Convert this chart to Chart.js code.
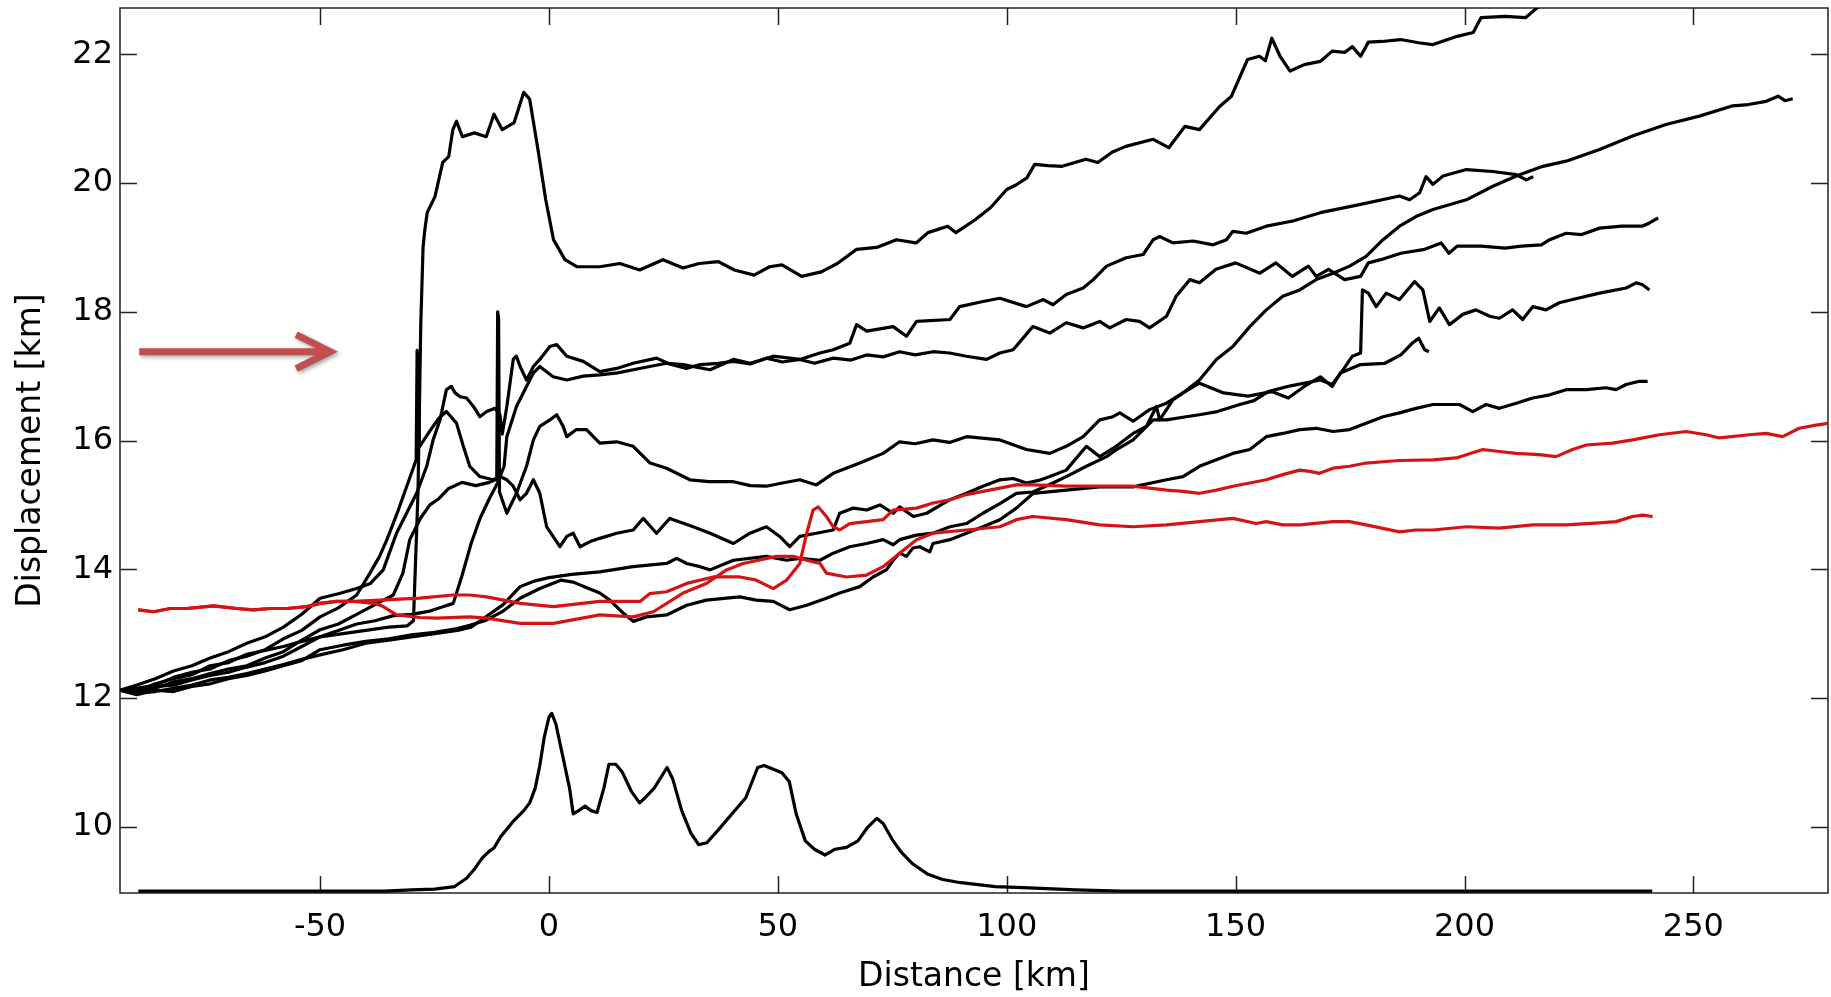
<!DOCTYPE html>
<html>
<head>
<meta charset="utf-8">
<script src="https://cdn.jsdelivr.net/npm/chart.js@4.4.0/dist/chart.umd.min.js"></script>
<style>
  html, body { margin: 0; padding: 0; background: #fff; }
  canvas { display: block; }
</style>
</head>
<body>
<canvas id="profileChart" width="1831" height="997"></canvas>
<script>
// axis ticks
const xTickValues = [-50, 0, 50, 100, 150, 200, 250];
const yTickValues = [10, 12, 14, 16, 18, 20, 22];

// profiles, [distance km, displacement km]
const curveA = [
  [-93.7,12.12],[-90,12.1],[-86,12.22],[-82,12.3],[-78,12.36],[-74,12.5],[-70,12.55],[-66,12.68],[-62,12.74],
  [-58,12.8],[-54,12.88],[-50,12.95],[-45,13.0],[-40,13.05],[-35,13.1],[-31,13.12],[-29.6,13.2],[-28.6,15.2],
  [-28.0,17.8],[-27.5,19.0],[-27.1,19.28],[-26.6,19.54],[-24.9,19.79],[-23.2,20.32],[-21.9,20.41],[-21,20.83],
  [-20.2,20.96],[-18.9,20.72],[-16.3,20.78],[-13.7,20.72],[-12,21.07],[-10.2,20.83],[-7.6,20.94],[-5.5,21.41],
  [-4.2,21.3],[-2.4,20.52],[-0.7,19.74],[1,19.12],[3.5,18.81],[6.1,18.7],[11.1,18.7],[15.5,18.75],[19.8,18.65],
  [24.9,18.81],[29.3,18.68],[32.8,18.75],[37,18.78],[40.5,18.65],[44.8,18.57],[48.2,18.7],[50.9,18.73],
  [55.2,18.55],[59.5,18.62],[63,18.75],[67.2,18.97],[71.6,19.0],[75.9,19.12],[80.2,19.07],[82.8,19.23],
  [87.1,19.33],[88.9,19.23],[93.1,19.43],[96.5,19.62],[100,19.9],[102,19.97],[104.4,20.08],[106.1,20.29],
  [109,20.27],[112.1,20.26],[117.3,20.37],[119.9,20.32],[123,20.48],[126,20.57],[132,20.68],[135.4,20.55],
  [138.9,20.88],[142.1,20.83],[146.5,21.19],[149.1,21.35],[152.6,21.92],[155.2,21.97],[156.5,21.9],
  [157.9,22.25],[159.7,21.97],[161.9,21.74],[165,21.84],[168.5,21.89],[171.1,22.05],[173.8,22.03],
  [175.5,22.12],[177.3,21.97],[179,22.19],[182,22.2],[186,22.23],[190,22.18],[193,22.15],[198.4,22.28],
  [201.9,22.34],[203.6,22.57],[208.9,22.59],[213.3,22.57],[216,22.73],[218,22.85]
];

const curveB1 = [
  [-93.7,12.12],[-90,12.2],[-86,12.3],[-82,12.42],[-78,12.5],[-74,12.62],[-70,12.72],[-66,12.85],[-62,12.95],
  [-58,13.1],[-54,13.3],[-50,13.55],[-46,13.62],[-42,13.7],[-39,13.78],[-36.2,13.99],[-33.3,14.56],[-31.1,14.87],
  [-28.9,15.18],[-26.7,15.6],[-25.3,16.01],[-23.8,16.32],[-22.4,16.79],[-21.3,16.84],[-20.5,16.74],[-19.4,16.68],
  [-18,16.66],[-16.5,16.53],[-15.1,16.37],[-13.6,16.45],[-11.8,16.5],[-10.7,16.4],[-10.2,16.1],[-9.2,16.53],
  [-7.8,17.26],[-7.1,17.31],[-6.3,17.15],[-4.9,16.94],[-3.4,17.15],[-2,17.26],[0.2,17.46],[1.7,17.49],
  [3.9,17.31],[7.5,17.23],[11.1,17.07],[14.8,17.12],[18.4,17.2],[23.5,17.28],[26,17.2],[29.3,17.18],
  [35.2,17.1],[40.3,17.26],[44,17.2],[49,17.31],[54.8,17.26],[59.2,17.36],[62.1,17.41],[65.7,17.51],
  [67.2,17.8],[69.4,17.7],[75.2,17.77],[78.1,17.62],[80.3,17.85],[87.6,17.88],[89.7,18.08],[94.8,18.16],
  [98.5,18.21],[104.3,18.08],[108,18.19],[110.1,18.11],[113,18.27],[116.7,18.37],[118.9,18.5],[121.8,18.71],
  [126.1,18.84],[129.8,18.89],[132,19.12],[133.4,19.17],[136.3,19.07],[140.7,19.1],[145.1,19.04],[148,19.12],
  [149.4,19.25],[152.3,19.22],[156.7,19.33],[162.5,19.41],[168.5,19.54],[177.3,19.67],[185.8,19.8],[188,19.74],
  [190.2,19.85],[191.6,20.1],[193.1,19.98],[195.3,20.11],[200.4,20.21],[206.2,20.18],[211.3,20.13],
  [213.5,20.05],[215,20.1]
];

const curveC = [
  [-93.7,12.12],[-90,12.15],[-86,12.2],[-82,12.32],[-78,12.4],[-74,12.45],[-70,12.58],[-66,12.65],[-62,12.75],
  [-58,12.92],[-54,13.05],[-50,13.26],[-46,13.4],[-42,13.6],[-39.1,13.94],[-37,14.2],[-35.4,14.46],[-33,14.9],
  [-31,15.3],[-29.5,15.6],[-29,15.7],[-28.8,17.4],[-28.5,17.3],[-28.3,15.9],[-26,16.15],[-24,16.35],
  [-22.4,16.45],[-20.2,16.27],[-18.7,15.91],[-17.3,15.6],[-15.1,15.44],[-12.2,15.39],[-10.7,15.44],[-9.8,15.6],
  [-9.2,16.06],[-7.1,16.53],[-4.9,16.84],[-3.4,17.05],[-2,17.15],[0.9,16.99],[3.9,16.94],[7.5,17.0],
  [11.1,17.02],[15,17.05],[18.4,17.1],[22,17.15],[25.7,17.2],[30,17.12],[33,17.18],[37,17.2],[40.3,17.23],
  [44,17.19],[47.5,17.28],[51,17.22],[54.8,17.26],[58,17.2],[62.1,17.28],[66,17.25],[69.4,17.33],[73,17.3],
  [76.6,17.38],[80,17.33],[83.9,17.38],[87.5,17.36],[91.2,17.31],[95.6,17.26],[98.5,17.36],[101.4,17.41],
  [105.7,17.77],[109.4,17.67],[113,17.83],[116.7,17.75],[120.3,17.85],[122.5,17.75],[126.1,17.88],[129,17.85],
  [131.2,17.75],[134.9,17.93],[137,18.24],[140,18.5],[142.1,18.45],[145.7,18.66],[150,18.76],[155.3,18.6],
  [158.8,18.76],[162.4,18.55],[165.9,18.71],[167.6,18.55],[170.3,18.66],[173.8,18.5],[177.3,18.55],[179,18.76],
  [181.7,18.81],[186.1,18.91],[191.3,18.97],[194.9,19.07],[196.6,18.91],[198.4,19.02],[203.6,19.02],
  [208.9,18.99],[212.4,19.02],[216.8,19.04],[218.6,19.12],[222.2,19.22],[225.6,19.2],[229.5,19.3],
  [234.4,19.33],[238.8,19.33],[240.4,19.38],[242.3,19.46]
];

const curveB = [
  [-93.7,12.12],[-90,12.1],[-86,12.15],[-82,12.25],[-78,12.3],[-74,12.38],[-70,12.45],[-66,12.5],[-62,12.62],
  [-58,12.72],[-54,12.9],[-50,13.06],[-46,13.15],[-42,13.3],[-38,13.45],[-34,13.6],[-31.9,13.94],[-30.4,14.46],
  [-28,14.8],[-26,15.0],[-24,15.1],[-22,15.25],[-19,15.35],[-16,15.3],[-13,15.35],[-11.4,15.4],[-11.2,18.0],
  [-11.0,17.9],[-10.8,15.2],[-9.2,14.87],[-7.1,15.18],[-4.9,15.6],[-3.4,16.01],[-2,16.22],[0.2,16.32],
  [1.7,16.4],[3.1,16.22],[3.9,16.06],[6,16.17],[8.2,16.17],[11.1,15.96],[14.8,15.98],[18.4,15.91],[22.1,15.65],
  [25.7,15.57],[30.8,15.39],[35,15.36],[40.3,15.36],[44,15.3],[47.5,15.29],[51,15.34],[54.8,15.39],[58.4,15.31],
  [62.1,15.49],[67.9,15.65],[73,15.8],[76.6,15.98],[80,15.95],[83.9,16.01],[87.5,15.97],[91.2,16.06],
  [98.5,16.01],[104.3,15.86],[109.4,15.8],[113,15.91],[116.7,16.06],[120.3,16.32],[123.2,16.37],[124.7,16.43],
  [127.6,16.3],[131.2,16.48],[134.9,16.58],[138.5,16.74],[142.1,16.94],[145.8,17.26],[149.4,17.46],
  [153.1,17.77],[156.7,18.03],[160.3,18.24],[164,18.34],[167.6,18.5],[171.3,18.6],[174.9,18.71],[178.5,18.86],
  [182.2,19.12],[185.8,19.33],[189.4,19.48],[193.1,19.59],[200.4,19.74],[206.2,19.95],[211.3,20.11],
  [217.1,20.26],[222.2,20.34],[229.5,20.52],[236.7,20.73],[244,20.91],[251.3,21.04],[258.6,21.2],[262,21.22],
  [265.9,21.27],[268.5,21.35],[270,21.28],[271.7,21.31]
];

const curveF = [
  [-93.7,12.12],[-90,12.12],[-86,12.18],[-82,12.2],[-78,12.28],[-74,12.35],[-70,12.4],[-66,12.48],[-62,12.55],
  [-58,12.65],[-54,12.8],[-50,12.95],[-46,13.05],[-42,13.15],[-38,13.2],[-34,13.28],[-30,13.3],[-26,13.35],
  [-23,13.42],[-20.9,13.47],[-19,13.9],[-17,14.4],[-15,14.8],[-13,15.1],[-11.5,15.3],[-10.7,15.44],[-9.2,15.39],
  [-7.8,15.29],[-6.3,15.08],[-4.9,15.18],[-3.4,15.39],[-2,15.18],[-0.5,14.66],[0.9,14.51],[2.4,14.35],
  [3.9,14.51],[5.3,14.56],[6.8,14.35],[9,14.43],[11.1,14.48],[14.8,14.56],[18.4,14.61],[20.6,14.79],
  [23.5,14.56],[26.4,14.79],[31.5,14.66],[35.2,14.56],[40.3,14.4],[43.9,14.56],[47.5,14.66],[50.4,14.51],
  [52.6,14.35],[54.8,14.51],[58.4,14.56],[62.1,14.61],[63.5,14.87],[66.5,14.95],[69.4,14.92],[72.3,15.0],
  [75.2,14.87],[76.6,14.97],[79.6,14.82],[82.5,14.87],[87.6,15.08],[91.2,15.18],[94.8,15.29],[98.5,15.39],
  [101.4,15.41],[104.3,15.34],[107,15.38],[109.4,15.44],[113,15.54],[117.4,15.91],[120.3,15.75],[123.9,15.91],
  [127.6,16.11],[130.5,16.22],[132.7,16.53],[133.4,16.32],[134.9,16.48],[136.3,16.63],[138.5,16.74],
  [142.1,16.89],[147.4,16.74],[152.7,16.69],[157.9,16.76],[161.5,16.66],[165,16.84],[168.5,16.99],
  [171.1,16.84],[172.9,17.05],[177.3,17.18],[182.6,17.2],[186.1,17.33],[188.7,17.52],[190,17.59],
  [191.3,17.41],[192.2,17.38]
];

const curveD = [
  [-93.7,12.12],[-90,12.08],[-86,12.1],[-82,12.15],[-78,12.2],[-74,12.28],[-70,12.32],[-66,12.38],[-62,12.45],
  [-58,12.52],[-54,12.6],[-50,12.67],[-45,12.75],[-40,12.85],[-35,12.9],[-30,12.95],[-25,13.0],[-20,13.05],
  [-17,13.1],[-14,13.25],[-10,13.45],[-6.3,13.73],[-3,13.82],[0,13.87],[5,13.92],[11.1,13.96],[18.4,14.04],
  [25.7,14.09],[27.9,14.17],[30.1,14.09],[33,14.04],[35.2,13.99],[40.3,14.14],[47.5,14.2],[51.9,14.14],
  [54.8,14.17],[59.2,14.14],[62.1,14.25],[65.7,14.35],[69.4,14.4],[73,14.46],[75.2,14.38],[76.6,14.46],
  [80.3,14.53],[83.9,14.56],[87.6,14.66],[91.2,14.71],[94.8,14.87],[98.5,15.02],[102.1,15.18],[105.7,15.2],
  [110.1,15.34],[113,15.44],[117.4,15.6],[121.8,15.75],[124,15.86],[127.6,16.01],[132,16.32],[134.9,16.32],
  [139.2,16.37],[142.1,16.4],[146,16.45],[150.9,16.56],[154,16.62],[157.1,16.76],[162,16.85],[168.5,16.94],
  [171.1,16.87],[173.5,17.1],[175.5,17.31],[177.3,17.36],[177.7,18.34],[179,18.29],[180.7,18.08],
  [182.9,18.29],[185.8,18.19],[189.1,18.47],[190.9,18.34],[192.4,17.85],[194.5,18.06],[196.7,17.8],
  [199.6,17.96],[202.5,18.03],[205.5,17.93],[207.6,17.9],[210.5,18.03],[212.7,17.88],[214.9,18.08],
  [217.8,18.03],[220.7,18.14],[223.6,18.19],[229.5,18.29],[235.3,18.37],[237.5,18.45],[238.9,18.42],
  [240.4,18.34]
];

const curveE = [
  [-93.7,12.12],[-90,12.05],[-86,12.12],[-82,12.1],[-78,12.18],[-74,12.22],[-70,12.3],[-66,12.35],[-62,12.42],
  [-58,12.5],[-54,12.58],[-50,12.75],[-45,12.82],[-40,12.88],[-35,12.92],[-30,12.98],[-25,13.02],[-20,13.08],
  [-17.3,13.13],[-14,13.2],[-10,13.35],[-6.3,13.55],[-2,13.7],[2.6,13.83],[5.3,13.8],[8,13.72],[11.1,13.63],
  [13.3,13.52],[16.2,13.32],[18.4,13.19],[21.3,13.26],[25.7,13.29],[30.1,13.44],[34.4,13.52],[38.8,13.55],
  [41.7,13.57],[45.3,13.52],[49,13.5],[52.6,13.37],[56.3,13.44],[60.6,13.55],[63.5,13.63],[67.9,13.73],
  [70.8,13.88],[73.7,13.99],[75.2,14.14],[76.6,14.25],[78.1,14.2],[79.5,14.33],[81,14.35],[83.2,14.27],
  [83.9,14.4],[87.6,14.46],[91.2,14.56],[94.8,14.66],[98.5,14.77],[102.1,14.95],[105.8,15.18],[113,15.23],
  [120.3,15.28],[127.6,15.28],[134.9,15.39],[138.5,15.44],[142.1,15.6],[145.8,15.7],[149.4,15.8],[153.1,15.86],
  [156.7,16.06],[160.3,16.11],[164,16.17],[167.6,16.19],[171.3,16.14],[174.9,16.17],[178.5,16.27],
  [182.2,16.37],[185.8,16.43],[189.4,16.5],[193.1,16.56],[198.9,16.56],[201.8,16.45],[204.7,16.56],
  [207.6,16.5],[211.3,16.58],[214.9,16.66],[218.6,16.71],[222.2,16.79],[226.6,16.79],[230.9,16.82],
  [233.1,16.79],[235.3,16.87],[238.2,16.92],[240,16.92]
];

const redUpper = [
  [-89.7,13.37],[-86.4,13.34],[-82.7,13.39],[-79.1,13.39],[-73.3,13.43],[-68.2,13.39],[-64.6,13.37],
  [-60.9,13.39],[-57.3,13.39],[-52.9,13.42],[-50,13.47],[-46.4,13.5],[-42.7,13.5],[-36.9,13.52],[-28.2,13.55],
  [-20.9,13.6],[-17.3,13.6],[-13.6,13.57],[-6.3,13.47],[1,13.42],[11.1,13.5],[19.9,13.5],[22,13.62],
  [25.7,13.65],[30.1,13.78],[35.9,13.88],[41.7,13.88],[45.3,13.83],[49,13.7],[51.9,13.83],[54.8,14.09],
  [56.3,14.56],[57.7,14.92],[58.8,14.97],[60.6,14.82],[62.1,14.66],[63.5,14.61],[65.7,14.71],[69.4,14.74],
  [73,14.77],[75.2,14.92],[80.3,14.95],[83.9,15.03],[87.6,15.08],[91.2,15.16],[94.8,15.21],[98.5,15.26],
  [102.1,15.31],[105.7,15.31],[113,15.29],[120.3,15.29],[127.6,15.29],[131.2,15.26],[134.9,15.23],
  [138.5,15.21],[142.1,15.18],[145.8,15.23],[149.4,15.29],[153.1,15.34],[156.7,15.39],[160.3,15.47],
  [164,15.54],[166.2,15.52],[168.3,15.49],[171.3,15.57],[174.9,15.6],[178.5,15.65],[182.2,15.67],
  [185.8,15.69],[193.1,15.7],[198.2,15.73],[204,15.86],[207.6,15.83],[211.3,15.8],[216.4,15.78],[220,15.75],
  [223.6,15.86],[226.6,15.93],[232.4,15.96],[236.7,16.01],[242.6,16.09],[248.4,16.14],[252.8,16.09],
  [255.7,16.04],[262.2,16.09],[265.9,16.11],[269.5,16.06],[273.1,16.19],[276.8,16.24],[279.7,16.27]
];

const redLower = [
  [-89.7,13.37],[-86.4,13.34],[-82.7,13.39],[-79.1,13.39],[-73.3,13.43],[-68.2,13.39],[-64.6,13.37],
  [-60.9,13.39],[-57.3,13.39],[-52.9,13.42],[-50,13.47],[-46.4,13.5],[-42.7,13.5],[-38,13.47],[-36.2,13.42],
  [-33.3,13.29],[-28.2,13.25],[-24.5,13.24],[-17.3,13.26],[-13.6,13.24],[-6.3,13.16],[1,13.16],[11.1,13.29],
  [18.4,13.26],[22.8,13.34],[29.3,13.63],[34.4,13.78],[38.8,13.99],[42.4,14.09],[49.7,14.2],[53.4,14.2],
  [56.3,14.14],[59.2,14.09],[60.6,13.94],[65,13.88],[69.4,13.91],[73,14.04],[76.6,14.25],[80.3,14.46],
  [83.9,14.56],[91.2,14.61],[98.5,14.66],[102.1,14.77],[105.7,14.82],[113,14.77],[120.3,14.69],[127.6,14.66],
  [134.9,14.69],[142.1,14.74],[149.4,14.79],[154.5,14.71],[156.7,14.74],[160.3,14.69],[164,14.69],
  [171.3,14.74],[174.9,14.74],[178.5,14.69],[185.8,14.58],[189.4,14.61],[193.1,14.61],[200.4,14.66],
  [207.6,14.64],[214.9,14.69],[222.2,14.69],[229.5,14.72],[233.1,14.74],[236.7,14.82],[238.9,14.84],
  [241.1,14.82]
];

// topography trace along the bottom
const bottomTrace = [
  [-89.7,9.0],[-60,9.0],[-36,9.0],[-30,9.02],[-25,9.03],[-20.6,9.07],[-18,9.2],[-16.3,9.34],[-14.5,9.52],
  [-13,9.62],[-12,9.67],[-10.5,9.85],[-9,9.98],[-7.6,10.1],[-5.5,10.25],[-4.2,10.37],[-3,10.6],[-2,10.95],
  [-1,11.4],[0,11.7],[0.6,11.76],[1.5,11.6],[3,11.1],[4.5,10.6],[5.3,10.2],[6.5,10.25],[7.9,10.32],[9.2,10.25],
  [10.5,10.22],[12,10.6],[13.1,10.97],[14.6,10.97],[16,10.85],[18,10.55],[19.8,10.37],[21,10.45],[23,10.6],
  [25.8,10.92],[27,10.75],[29,10.25],[31,9.9],[32.7,9.72],[34.5,9.75],[37,9.95],[40,10.2],[43,10.45],
  [45.6,10.92],[47,10.95],[50.9,10.84],[52.5,10.7],[54,10.2],[56,9.78],[58,9.65],[60.3,9.56],[62.5,9.65],
  [65,9.68],[67.5,9.78],[69.5,9.98],[71.6,10.13],[73,10.05],[75,9.8],[77,9.6],[79.5,9.42],[82.8,9.26],
  [86,9.18],[90,9.13],[97.5,9.07],[105,9.05],[115,9.02],[125,9.0],[241,9.0]
];

// annotation arrow (data coordinates)
const arrowTail = [-89.5, 17.38];
const arrowTip = [-47.8, 17.38];

const black = '#000000';
const red = '#d41414';

function toPoints(pairs) {
  return pairs.map(p => ({ x: p[0], y: p[1] }));
}

function lineSet(pairs, color) {
  return {
    data: toPoints(pairs),
    borderColor: color,
    borderWidth: 3.2,
    borderJoinStyle: 'round',
    showLine: true,
    pointRadius: 0,
    tension: 0,
    fill: false
  };
}

// chart.js reserves room for edge labels; the frame here sits tight to the canvas
function noEdgePadding(s) {
  s.paddingTop = 0;
  s.paddingBottom = 0;
  s.paddingLeft = 0;
  s.paddingRight = 0;
}

const frameTicks = {
  id: 'frameTicks',
  beforeDatasetsDraw(chart) {
    const { ctx, chartArea: a, scales } = chart;
    const len = 17;
    ctx.save();
    ctx.strokeStyle = '#222';
    ctx.lineWidth = 1.5;
    ctx.strokeRect(a.left, a.top, a.right - a.left, a.bottom - a.top);
    ctx.beginPath();
    for (const v of xTickValues) {
      const px = Math.round(scales.x.getPixelForValue(v)) + 0.5;
      ctx.moveTo(px, a.bottom); ctx.lineTo(px, a.bottom - len);
      ctx.moveTo(px, a.top); ctx.lineTo(px, a.top + len);
    }
    for (const v of yTickValues) {
      const py = Math.round(scales.y.getPixelForValue(v)) + 0.5;
      ctx.moveTo(a.left, py); ctx.lineTo(a.left + len, py);
      ctx.moveTo(a.right, py); ctx.lineTo(a.right - len, py);
    }
    ctx.stroke();
    ctx.restore();
  }
};

const arrowMark = {
  id: 'arrowMark',
  afterDatasetsDraw(chart) {
    const { ctx, scales } = chart;
    const x0 = scales.x.getPixelForValue(arrowTail[0]);
    const x1 = scales.x.getPixelForValue(arrowTip[0]);
    const y = scales.y.getPixelForValue(arrowTip[1]);
    ctx.save();
    ctx.shadowColor = 'rgba(0,0,0,0.35)';
    ctx.shadowBlur = 4;
    ctx.shadowOffsetX = 2;
    ctx.shadowOffsetY = 2;
    ctx.strokeStyle = '#C0504D';
    ctx.lineWidth = 7;
    ctx.lineJoin = 'miter';
    ctx.beginPath();
    ctx.moveTo(x0, y);
    ctx.lineTo(x1 - 3, y);
    ctx.moveTo(x1 - 34, y - 17);
    ctx.lineTo(x1, y);
    ctx.lineTo(x1 - 34, y + 17);
    ctx.stroke();
    ctx.restore();
  }
};

const tickFont = { family: 'DejaVu Sans', size: 32 };
const titleFont = { family: 'DejaVu Sans', size: 33 };

new Chart(document.getElementById('profileChart'), {
  type: 'scatter',
  data: {
    datasets: [
      lineSet(redUpper, red),
      lineSet(redLower, red),
      lineSet(curveA, black),
      lineSet(curveB1, black),
      lineSet(curveC, black),
      lineSet(curveB, black),
      lineSet(curveF, black),
      lineSet(curveD, black),
      lineSet(curveE, black),
      lineSet(bottomTrace, black)
    ]
  },
  options: {
    responsive: false,
    animation: false,
    devicePixelRatio: 1,
    layout: { padding: { top: 8, right: 3, left: 0, bottom: 0 } },
    plugins: { legend: { display: false }, tooltip: { enabled: false } },
    scales: {
      x: {
        type: 'linear',
        min: -93.7,
        max: 279.4,
        grid: { display: false, drawTicks: false },
        border: { display: false },
        afterBuildTicks: s => { s.ticks = xTickValues.map(v => ({ value: v })); },
        afterFit: s => { s.height = 104; noEdgePadding(s); },
        ticks: { font: tickFont, color: '#000', padding: 15, maxRotation: 0, autoSkip: false,
                 callback: v => String(v) },
        title: { display: true, text: 'Distance [km]', font: titleFont, color: '#000',
                 padding: { top: 0, bottom: 0 } }
      },
      y: {
        type: 'linear',
        min: 8.97,
        max: 22.72,
        grid: { display: false, drawTicks: false },
        border: { display: false },
        afterBuildTicks: s => { s.ticks = yTickValues.map(v => ({ value: v })); },
        afterFit: s => { s.width = 120; noEdgePadding(s); },
        ticks: { font: tickFont, color: '#000', padding: 7, callback: v => String(v) },
        title: { display: true, text: 'Displacement [km]', font: titleFont, color: '#000',
                 padding: { top: 12, bottom: 0 } }
      }
    }
  },
  plugins: [frameTicks, arrowMark]
});
</script>
</body>
</html>
